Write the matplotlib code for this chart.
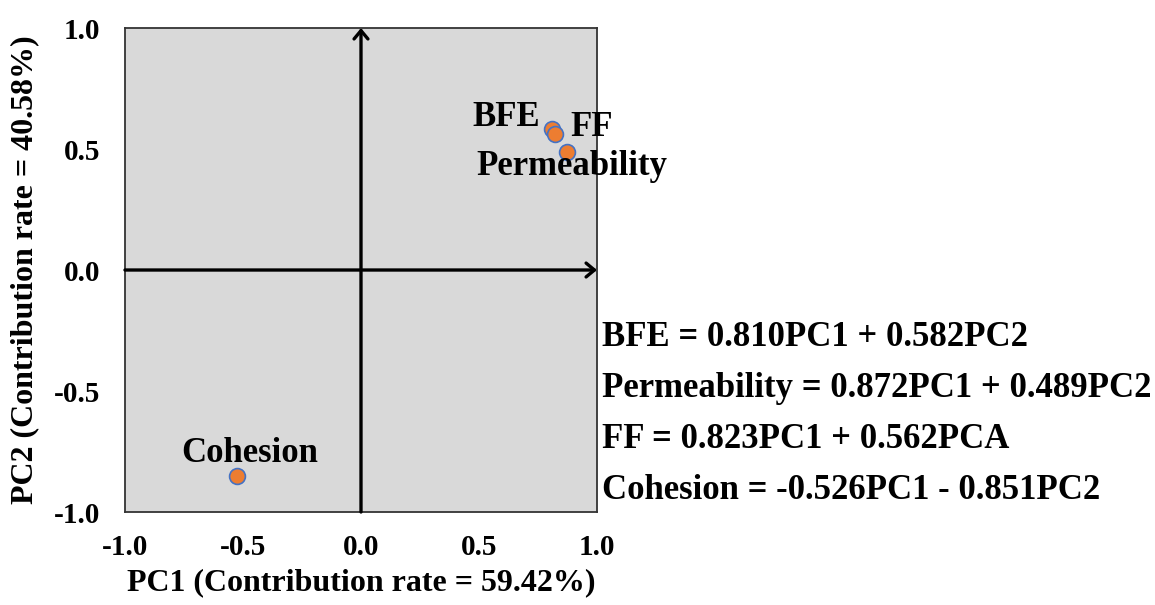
import matplotlib
matplotlib.use("Agg")
import matplotlib.pyplot as plt

# Loadings of each variable on the first two principal components
names = ["BFE", "Permeability", "FF", "Cohesion"]
pc1 = [0.810, 0.872, 0.823, -0.526]
pc2 = [0.582, 0.489, 0.562, -0.851]
equations = [
    "BFE = 0.810PC1 + 0.582PC2",
    "Permeability = 0.872PC1 + 0.489PC2",
    "FF = 0.823PC1 + 0.562PCA",
    "Cohesion = -0.526PC1 - 0.851PC2",
]
ticks = [-1.0, -0.5, 0.0, 0.5, 1.0]

# label offsets (points) and alignment for each variable
label_offsets = {
    "BFE": ((-8.5, 8.5), "right"),
    "FF": ((11, 4.5), "left"),
    "Permeability": ((-65, -11), "left"),
    "Cohesion": ((9.5, 16.5), "center"),
}

plt.rcParams["font.family"] = ["Liberation Serif", "DejaVu Serif"]
plt.rcParams["font.weight"] = "bold"

fig = plt.figure(figsize=(11.55, 6.05), dpi=100)
ax = fig.add_axes([0.1082, 0.1537, 0.4087, 0.8])
ax.set_facecolor("#d9d9d9")
ax.set_xlim(-1, 1)
ax.set_ylim(-1, 1)

# axes through the origin with arrow heads
arrow = dict(arrowstyle="->,head_length=0.6,head_width=0.5", color="black", lw=2.4,
             shrinkA=0, shrinkB=0)
ax.annotate("", xy=(1, 0), xytext=(-1, 0), arrowprops=arrow)
ax.annotate("", xy=(0, 1), xytext=(0, -1), arrowprops=arrow)

ax.scatter(pc1, pc2, s=130, color="#ed7d31", edgecolors="#4472c4", linewidths=1.2, zorder=3)

for name, x, y in zip(names, pc1, pc2):
    off, ha = label_offsets[name]
    ax.annotate(name, xy=(x, y), xytext=off, textcoords="offset points",
                ha=ha, va="center", fontsize=25, fontweight="bold", annotation_clip=False)

for i, eq in enumerate(equations):
    ax.text(1.021, -0.277 - 0.212 * i, eq, ha="left", va="center", fontsize=25,
            fontweight="bold", clip_on=False)

ax.set_xticks(ticks)
ax.set_yticks(ticks)
ax.set_xticklabels([f"{t:.1f}" for t in ticks])
ax.set_yticklabels([f"{t:.1f}" for t in ticks])
ax.tick_params(axis="x", length=0, labelsize=21, pad=16)
ax.tick_params(axis="y", length=0, labelsize=21, pad=18)
for lab in ax.get_xticklabels() + ax.get_yticklabels():
    lab.set_fontweight("bold")

for sp in ax.spines.values():
    sp.set_color("#333333")
    sp.set_linewidth(1.3)

ax.set_xlabel("PC1 (Contribution rate = 59.42%)", fontsize=23, fontweight="bold", labelpad=5)
ax.set_ylabel("PC2 (Contribution rate = 40.58%)", fontsize=23, fontweight="bold", labelpad=10)

fig.savefig("out.png", dpi=100)
